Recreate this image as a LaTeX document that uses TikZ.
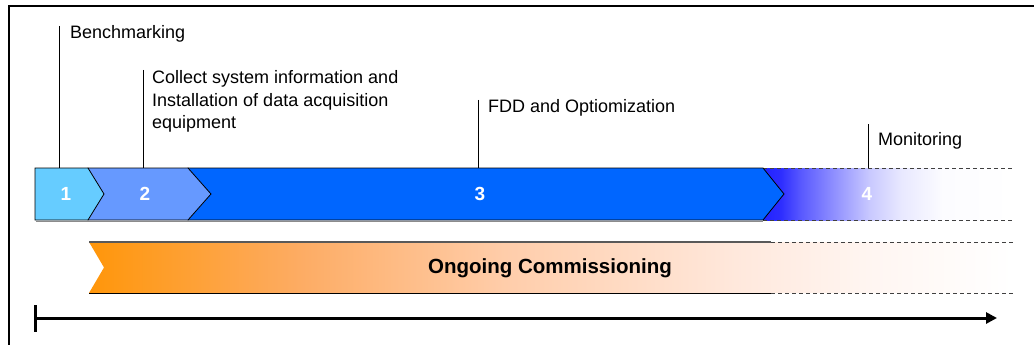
\documentclass[tikz,border=0pt]{standalone}
\usepackage{fontspec}
\setmainfont{Liberation Sans}
\usetikzlibrary{arrows.meta}

% phase colours
\definecolor{phaseA}{RGB}{102,204,255}
\definecolor{phaseB}{RGB}{102,153,255}
\definecolor{phaseC}{RGB}{0,102,255}
% fade of the monitoring phase
\definecolor{monA}{RGB}{34,34,255}
\definecolor{monB}{RGB}{45,45,255}
\definecolor{monC}{RGB}{88,88,255}
\definecolor{monD}{RGB}{138,138,255}
\definecolor{monE}{RGB}{202,202,255}
\definecolor{monF}{RGB}{232,232,255}
\definecolor{monG}{RGB}{252,252,255}
% fade of the ongoing commissioning band
\definecolor{ocxA}{RGB}{255,150,10}
\definecolor{ocxB}{RGB}{253,172,100}
\definecolor{ocxC}{RGB}{255,205,170}
\definecolor{ocxD}{RGB}{255,232,220}
\definecolor{ocxE}{RGB}{255,246,242}

\pgfdeclarehorizontalshading{monfade}{100bp}{color(0bp)=(monA); color(25bp)=(monA);
  color(28.5bp)=(monB); color(32.5bp)=(monC); color(38.5bp)=(monD);
  color(46.5bp)=(monE); color(52.5bp)=(monF); color(61bp)=(monG);
  color(75bp)=(white); color(100bp)=(white)}
\pgfdeclarehorizontalshading{ocxfade}{100bp}{color(0bp)=(ocxA); color(25bp)=(ocxA);
  color(36.5bp)=(ocxB); color(47.5bp)=(ocxC); color(60bp)=(ocxD);
  color(67.5bp)=(ocxE); color(75bp)=(white); color(100bp)=(white)}

\tikzset{
  chev/.style={draw=black, line width=0.8pt, line join=miter},
  phasenum/.style={text=white, font=\fontsize{19}{22}\selectfont\bfseries, inner sep=0pt},
  caption/.style={font=\fontsize{18}{22.5}\selectfont, inner sep=0pt, align=left},
  leader/.style={draw=black, line width=0.9pt},
  openend/.style={draw=black!75, line width=0.8pt, dash pattern=on 4pt off 3pt},
}

\begin{document}
\begin{tikzpicture}[x=1pt,y=-1pt]
\useasboundingbox (0,0) rectangle (1034,345);

% frame
\draw[line width=2.2pt] (9,345) -- (9,6) -- (1034,6);

% ---- phase bar ----
% phase 4: monitoring, fading out
\shade[shading=monfade] (763,168) rectangle (1013,220);
\draw[openend] (763,168) -- (1013,168);
\draw[openend] (763,220) -- (1013,220);
% grey shadow under the solid phases
\draw[black!45, line width=1.2pt] (36,221.2) -- (763,221.2);
% phase 3
\filldraw[chev, fill=phaseC] (188,168) -- (763,168) -- (784,194) -- (763,220) -- (188,220) -- cycle;
% phase 2
\filldraw[chev, fill=phaseB] (88,168) -- (188,168) -- (211,194) -- (188,220) -- (88,220) -- cycle;
% phase 1
\filldraw[chev, fill=phaseA] (35,168) -- (88,168) -- (104,194) -- (88,220) -- (35,220) -- cycle;

\node[phasenum] (n1) at (66,194) {1};
\node[phasenum] (n2) at (145,194) {2};
\node[phasenum] (n3) at (480,194) {3};
\node[phasenum] (n4) at (867,194) {4};

% ---- phase captions with leaders ----
\node[caption, anchor=base west] (c1) at (70,39) {Benchmarking};
\node[caption, anchor=north west] (c2) at (152,70.5) {Collect system information and\\Installation of data acquisition\\equipment};
\node[caption, anchor=base west] (c3) at (488,113) {FDD and Optiomization};
\node[caption, anchor=base west] (c4) at (878,145) {Monitoring};

\coordinate (l1a) at (59,26);  \coordinate (l1b) at (59,168);
\coordinate (l2a) at (143,70); \coordinate (l2b) at (143,168);
\coordinate (l3a) at (478,100); \coordinate (l3b) at (478,168);
\coordinate (l4a) at (868,124); \coordinate (l4b) at (868,168);
\draw[leader] (l1a) -- (l1b);
\draw[leader] (l2a) -- (l2b);
\draw[leader] (l3a) -- (l3b);
\draw[leader] (l4a) -- (l4b);

% ---- ongoing commissioning band ----
\shade[shading=ocxfade] (89,242) -- (1013,242) -- (1013,293) -- (89,293) -- (104,267.5) -- cycle;
\draw[black!65, line width=1.2pt] (89,242) -- (771,242);
\draw[black, line width=0.8pt] (89,293) -- (771,293);
\draw[openend] (771,242) -- (1013,242);
\draw[openend] (771,293) -- (1013,293);
\node[font=\fontsize{20.5}{24}\selectfont\bfseries, inner sep=0pt] (ocx) at (550,268) {Ongoing Commissioning};

% ---- time axis ----
\coordinate (t0) at (35,318);
\coordinate (t1) at (997,318);
\coordinate (tk1) at (35,305);
\coordinate (tk2) at (35,332);
\draw[line width=3pt] (tk1) -- (tk2);
\draw[line width=3pt, -{Triangle[length=11pt,width=11pt]}] (t0) -- (t1);
\end{tikzpicture}
\end{document}
